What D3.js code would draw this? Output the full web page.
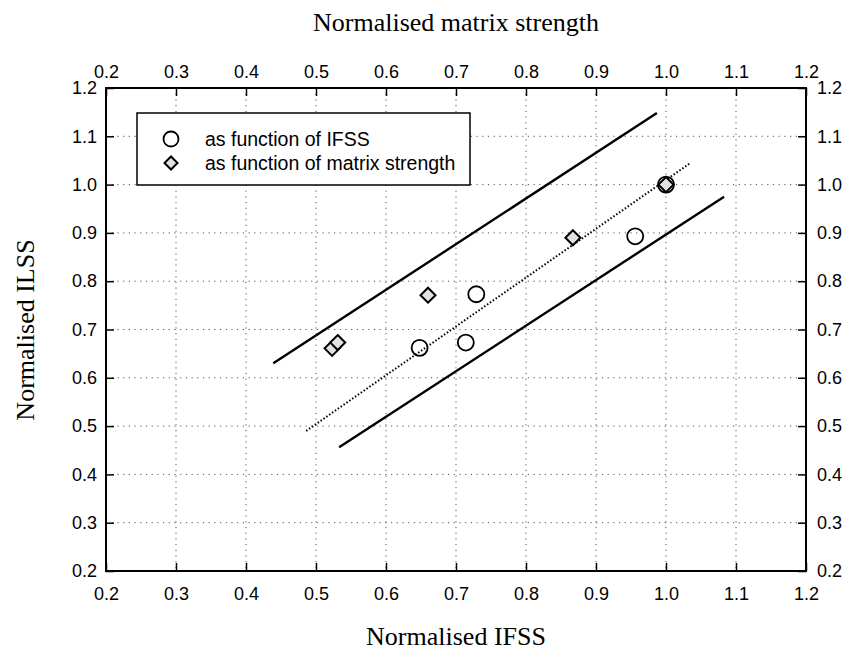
<!DOCTYPE html>
<html>
<head>
<meta charset="utf-8">
<script src="https://cdn.jsdelivr.net/npm/d3@7/dist/d3.min.js"></script>
<style>
  html, body { margin: 0; padding: 0; background: #fff; }
  svg { display: block; }
  .tick text { font-family: "Liberation Sans", Arial, sans-serif; font-size: 18px; fill: #000; }
</style>
</head>
<body>
<svg id="chart" width="844" height="652"></svg>
<script>
// ---- data ----
const tickValues = [0.2, 0.3, 0.4, 0.5, 0.6, 0.7, 0.8, 0.9, 1.0, 1.1, 1.2];
const ifssX = [0.648, 0.714, 0.729, 0.956, 1.0];
const ifssY = [0.662, 0.673, 0.773, 0.893, 1.0];
const matrixX = [0.523, 0.531, 0.660, 0.867, 1.0];
const matrixY = [0.661, 0.673, 0.771, 0.890, 1.0];
const upperBoundX = [0.439, 0.987];
const upperBoundY = [0.630, 1.148];
const fitLineX = [0.486, 1.034];
const fitLineY = [0.490, 1.044];
const lowerBoundX = [0.533, 1.083];
const lowerBoundY = [0.456, 0.975];
const legendLabels = ["as function of IFSS", "as function of matrix strength"];
const xTitle = "Normalised IFSS";
const x2Title = "Normalised matrix strength";
const yTitle = "Normalised ILSS";

// ---- layout ----
const svg = d3.select("#chart");
const L = 106, R = 806, T = 88, B = 571;
const x = d3.scaleLinear().domain([0.2, 1.2]).range([L, R]);
const y = d3.scaleLinear().domain([0.2, 1.2]).range([B, T]);
const fmt = d3.format(".1f");

// grid
const grid = svg.append("g");
grid.selectAll("line.gx").data(tickValues.slice(1, -1)).join("line")
  .attr("x1", d => x(d)).attr("x2", d => x(d)).attr("y1", T).attr("y2", B)
  .attr("stroke", "#555").attr("stroke-width", 1).attr("stroke-dasharray", "1.2,4.5");
grid.selectAll("line.gy").data(tickValues.slice(1, -1)).join("line")
  .attr("y1", d => y(d)).attr("y2", d => y(d)).attr("x1", L).attr("x2", R)
  .attr("stroke", "#555").attr("stroke-width", 1).attr("stroke-dasharray", "1.2,4.5");

// lines
const line = d3.line().x(d => x(d[0])).y(d => y(d[1]));
const pts = (xs, ys) => xs.map((v, i) => [v, ys[i]]);
svg.append("path").attr("d", line(pts(upperBoundX, upperBoundY)))
  .attr("stroke", "#000").attr("stroke-width", 2.4).attr("fill", "none");
svg.append("path").attr("d", line(pts(lowerBoundX, lowerBoundY)))
  .attr("stroke", "#000").attr("stroke-width", 2.4).attr("fill", "none");
svg.append("path").attr("d", line(pts(fitLineX, fitLineY)))
  .attr("stroke", "#000").attr("stroke-width", 2).attr("stroke-dasharray", "1.5,2").attr("fill", "none");

// symbols
const diamond = (cx, cy, h) => `M${cx},${cy - h}L${cx + h},${cy}L${cx},${cy + h}L${cx - h},${cy}Z`;
svg.append("g").selectAll("path").data(pts(matrixX, matrixY)).join("path")
  .attr("d", d => diamond(x(d[0]), y(d[1]), 7.5))
  .attr("fill", "#e2e2e2").attr("stroke", "#000").attr("stroke-width", 2);
svg.append("g").selectAll("circle").data(pts(ifssX, ifssY)).join("circle")
  .attr("cx", d => x(d[0])).attr("cy", d => y(d[1])).attr("r", 8)
  .attr("fill", "none").attr("stroke", "#000").attr("stroke-width", 1.8);

// axes
function styleAxis(g) { g.select(".domain").remove(); g.selectAll(".tick line").attr("stroke", "#000").attr("stroke-width", 1.5); }
svg.append("g").attr("transform", `translate(0,${B})`)
  .call(d3.axisBottom(x).tickValues(tickValues).tickFormat(fmt).tickSizeInner(-8).tickSizeOuter(0).tickPadding(16)).call(styleAxis);
svg.append("g").attr("transform", `translate(0,${T})`)
  .call(d3.axisTop(x).tickValues(tickValues).tickFormat(fmt).tickSizeInner(-8).tickSizeOuter(0).tickPadding(10)).call(styleAxis);
svg.append("g").attr("transform", `translate(${L},0)`)
  .call(d3.axisLeft(y).tickValues(tickValues).tickFormat(fmt).tickSizeInner(-8).tickSizeOuter(0).tickPadding(9)).call(styleAxis);
svg.append("g").attr("transform", `translate(${R},0)`)
  .call(d3.axisRight(y).tickValues(tickValues).tickFormat(fmt).tickSizeInner(-8).tickSizeOuter(0).tickPadding(11)).call(styleAxis);

// frame
svg.append("rect").attr("x", L).attr("y", T).attr("width", R - L).attr("height", B - T)
  .attr("fill", "none").attr("stroke", "#000").attr("stroke-width", 2);

// legend
const lg = svg.append("g");
lg.append("rect").attr("x", 137).attr("y", 113).attr("width", 333).attr("height", 72)
  .attr("fill", "#fff").attr("stroke", "#000").attr("stroke-width", 1.5);
lg.append("circle").attr("cx", 171).attr("cy", 139).attr("r", 7.5)
  .attr("fill", "none").attr("stroke", "#000").attr("stroke-width", 1.8);
lg.append("path").attr("d", diamond(171, 163, 6.5))
  .attr("fill", "#e2e2e2").attr("stroke", "#000").attr("stroke-width", 2);
lg.selectAll("text").data(legendLabels).join("text")
  .attr("x", 205).attr("y", (d, i) => 139 + i * 24).attr("dy", "0.35em")
  .attr("font-family", "Liberation Sans, Arial, sans-serif").attr("font-size", 19.5)
  .text(d => d);

// titles
const serif = "Liberation Serif, Times New Roman, serif";
svg.append("text").attr("x", 456).attr("y", 31).attr("text-anchor", "middle")
  .attr("font-family", serif).attr("font-size", 26).text(x2Title);
svg.append("text").attr("x", 456).attr("y", 645).attr("text-anchor", "middle")
  .attr("font-family", serif).attr("font-size", 26).text(xTitle);
svg.append("text").attr("transform", "translate(34,330) rotate(-90)").attr("text-anchor", "middle")
  .attr("font-family", serif).attr("font-size", 26).text(yTitle);
</script>
</body>
</html>
